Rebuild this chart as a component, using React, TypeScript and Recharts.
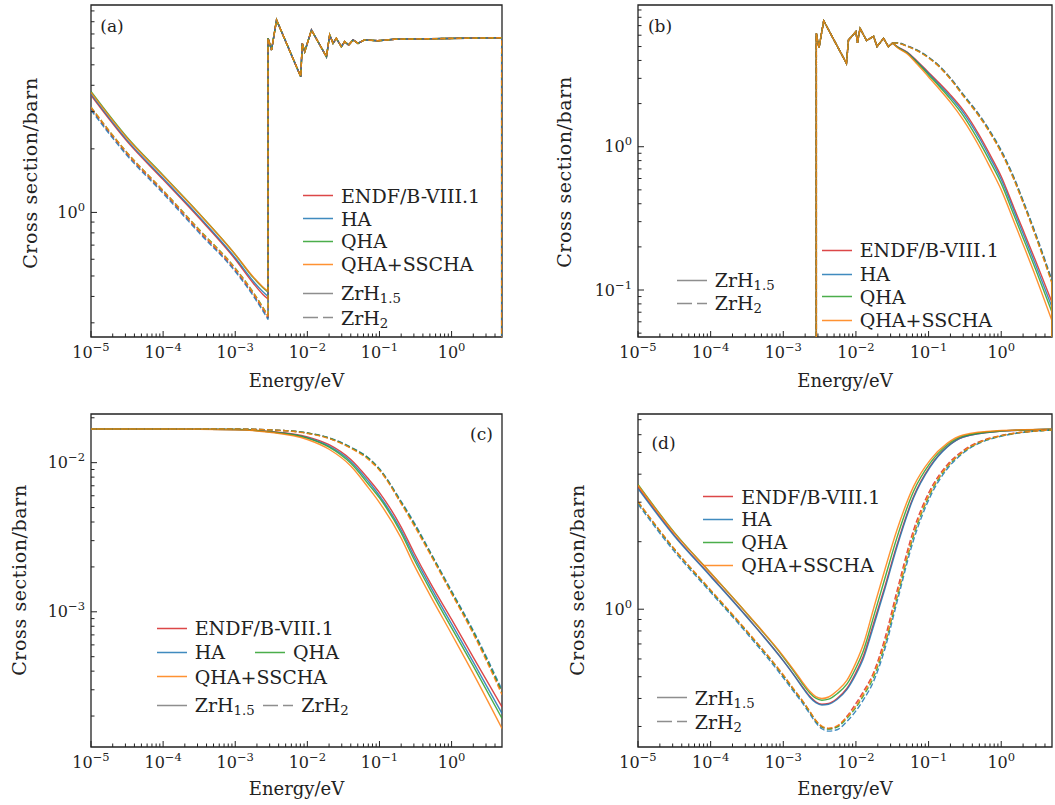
import React from "react";
import { LineChart, Line, XAxis, YAxis, ReferenceArea } from "recharts";

const FONT = '"DejaVu Serif", serif';
const INK = "#222";
const RED = "#d62728";
const BLUE = "#1f77b4";
const GREEN = "#2ca02c";
const ORANGE = "#ff7f0e";
const GRAY = "#7a7a7a";
const LINE_OPACITY = 0.85;

// ---------- panel (a) ----------
// smooth part below the first Bragg edge
const aLowEnergy = [1e-5, 3.16e-5, 1e-4, 3.16e-4, 1e-3, 1.78e-3, 2.4e-3, 2.85e-3];
const aRedLow = [3.58, 2.17, 1.43, 0.94, 0.6, 0.462, 0.41, 0.389];
const aBlueLow = [3.63, 2.2, 1.45, 0.955, 0.61, 0.472, 0.422, 0.4];
const aGreenLow = [3.74, 2.27, 1.5, 0.988, 0.632, 0.491, 0.441, 0.419];
const aOrangeLow = [3.7, 2.25, 1.49, 0.985, 0.633, 0.494, 0.445, 0.424];
const aRedDashLow = [3.1, 1.89, 1.25, 0.813, 0.533, 0.409, 0.349, 0.316];
const aBlueDashLow = [3.05, 1.86, 1.23, 0.8, 0.525, 0.402, 0.343, 0.311];
const aGreenDashLow = [3.15, 1.92, 1.27, 0.83, 0.545, 0.418, 0.357, 0.324];
const aOrangeDashLow = [3.15, 1.92, 1.27, 0.826, 0.542, 0.416, 0.355, 0.322];
// Bragg-edge part (all curves coincide)
const aBraggEnergy = [
  2.85e-3, 3.19e-3, 3.74e-3, 8.1e-3, 8.5e-3, 9.2e-3, 1.14e-2, 1.84e-2, 2.04e-2, 2.27e-2,
  2.52e-2, 2.96e-2, 3.29e-2, 3.74e-2, 4.3e-2, 5.04e-2, 6.2e-2, 9.5e-2, 0.162, 4.95, 4.95,
];
const aBragg = [
  6.68, 5.88, 8.16, 4.39, 6.32, 5.77, 7.31, 5.46, 6.92, 6.32, 6.68, 6.09, 6.44, 6.21, 6.56,
  6.32, 6.56, 6.5, 6.61, 6.72, 0.1,
];

// ---------- panel (b) ----------
const bBraggEnergy = [
  2.85e-3, 2.85e-3, 3.1e-3, 3.6e-3, 7.4e-3, 7.9e-3, 1.0e-2, 1.05e-2, 1.14e-2, 1.4e-2, 1.75e-2,
  1.95e-2, 2.4e-2, 2.8e-2, 3.2e-2,
];
const bBragg = [0.01, 6.18, 4.9, 7.57, 3.82, 5.56, 6.35, 5.3, 6.7, 5.5, 5.9, 5.0, 5.7, 5.0, 5.3];
const bTailEnergy = [0.037, 0.05, 0.07, 0.1, 0.14, 0.2, 0.3, 0.5, 0.7, 1, 1.5, 2, 3, 5];
const bRedTail = [5.0, 4.6, 3.95, 3.3, 2.78, 2.3, 1.8, 1.2, 0.88, 0.62, 0.374, 0.262, 0.158, 0.082];
const bBlueTail = [4.98, 4.57, 3.9, 3.24, 2.71, 2.23, 1.73, 1.15, 0.84, 0.59, 0.355, 0.248, 0.148, 0.076];
const bGreenTail = [4.96, 4.53, 3.85, 3.17, 2.64, 2.15, 1.65, 1.08, 0.79, 0.555, 0.332, 0.231, 0.138, 0.07];
const bOrangeTail = [4.93, 4.48, 3.76, 3.07, 2.53, 2.04, 1.54, 1.0, 0.72, 0.5, 0.3, 0.208, 0.123, 0.061];
const bRedDashTail = [5.3, 5.05, 4.7, 4.2, 3.65, 3.0, 2.3, 1.65, 1.27, 0.93, 0.6, 0.415, 0.24, 0.115];
const bBlueDashTail = [5.32, 5.07, 4.72, 4.22, 3.67, 3.02, 2.32, 1.67, 1.29, 0.945, 0.61, 0.422, 0.245, 0.117];
const bGreenDashTail = [5.29, 5.04, 4.68, 4.18, 3.63, 2.98, 2.28, 1.63, 1.26, 0.92, 0.593, 0.41, 0.237, 0.113];
const bOrangeDashTail = [5.28, 5.03, 4.66, 4.16, 3.61, 2.96, 2.26, 1.62, 1.25, 0.91, 0.587, 0.405, 0.234, 0.111];

// ---------- panel (c) ----------
const cEnergy = [1e-5, 1e-4, 1e-3, 3e-3, 1e-2, 2e-2, 4e-2, 7e-2, 0.1, 0.2, 0.3, 0.5, 1, 2, 5];
const cRed = [0.0168, 0.0168, 0.0167, 0.0162, 0.0149, 0.0132, 0.0105, 0.0078, 0.0063, 0.0037, 0.0025, 0.00158, 0.00089, 0.000495, 0.00023];
const cBlue = [0.0168, 0.0168, 0.0167, 0.0161, 0.0147, 0.0129, 0.0102, 0.0075, 0.006, 0.00352, 0.00237, 0.0015, 0.00083, 0.00046, 0.000208];
const cGreen = [0.0168, 0.0168, 0.0167, 0.0161, 0.0146, 0.0127, 0.0099, 0.0072, 0.0058, 0.00338, 0.00226, 0.00142, 0.00078, 0.000432, 0.000193];
const cOrange = [0.0168, 0.0168, 0.0166, 0.016, 0.0143, 0.0123, 0.0095, 0.0068, 0.0054, 0.00312, 0.00207, 0.0013, 0.00071, 0.000385, 0.000165];
const cRedDash = [0.0168, 0.0168, 0.0168, 0.0166, 0.0158, 0.0146, 0.0126, 0.0107, 0.009, 0.0054, 0.0039, 0.0025, 0.00135, 0.00073, 0.000288];
const cBlueDash = [0.0168, 0.0168, 0.0168, 0.0166, 0.0158, 0.0147, 0.0127, 0.0108, 0.0091, 0.0055, 0.004, 0.00255, 0.00138, 0.00075, 0.0003];
const cGreenDash = [0.0168, 0.0168, 0.0168, 0.0166, 0.0158, 0.0146, 0.0126, 0.0107, 0.009, 0.0054, 0.0039, 0.0025, 0.00135, 0.00073, 0.00029];
const cOrangeDash = [0.0168, 0.0168, 0.0168, 0.0166, 0.0157, 0.0145, 0.0125, 0.0105, 0.0089, 0.0053, 0.0038, 0.00245, 0.00132, 0.00071, 0.000278];

// ---------- panel (d) ----------
const dEnergy = [
  1e-5, 3.16e-5, 1e-4, 3.16e-4, 1e-3, 1.4e-3, 1.8e-3, 2.3e-3, 2.8e-3, 3.4e-3, 4.2e-3, 5.5e-3,
  7.5e-3, 1e-2, 1.27e-2, 1.74e-2, 2.5e-2, 3.66e-2, 6.2e-2, 0.105, 0.18, 0.3, 0.88, 5,
];
const dRed = [3.5, 2.14, 1.41, 0.925, 0.59, 0.51, 0.455, 0.41, 0.386, 0.377, 0.38, 0.4, 0.443, 0.522, 0.62, 0.86, 1.26, 1.93, 3.17, 4.34, 5.3, 5.86, 6.2, 6.34];
const dBlue = [3.45, 2.12, 1.4, 0.92, 0.588, 0.508, 0.452, 0.406, 0.383, 0.374, 0.377, 0.396, 0.438, 0.512, 0.605, 0.835, 1.23, 1.89, 3.13, 4.3, 5.28, 5.85, 6.2, 6.34];
const dGreen = [3.6, 2.2, 1.45, 0.955, 0.612, 0.528, 0.47, 0.424, 0.401, 0.393, 0.397, 0.42, 0.463, 0.548, 0.655, 0.92, 1.37, 2.08, 3.35, 4.48, 5.4, 5.92, 6.22, 6.34];
const dOrange = [3.57, 2.19, 1.45, 0.958, 0.618, 0.535, 0.478, 0.432, 0.408, 0.4, 0.406, 0.433, 0.482, 0.578, 0.7, 1.0, 1.5, 2.25, 3.52, 4.62, 5.49, 5.98, 6.25, 6.34];
const dRedDash = [3.0, 1.85, 1.21, 0.795, 0.505, 0.436, 0.392, 0.35, 0.318, 0.299, 0.293, 0.3, 0.333, 0.38, 0.43, 0.52, 0.74, 1.2, 2.25, 3.4, 4.4, 5.1, 5.9, 6.3];
const dBlueDash = [2.94, 1.81, 1.19, 0.78, 0.495, 0.428, 0.385, 0.343, 0.312, 0.293, 0.286, 0.29, 0.316, 0.352, 0.395, 0.475, 0.665, 1.07, 2.03, 3.17, 4.22, 4.97, 5.85, 6.3];
const dGreenDash = [3.0, 1.85, 1.21, 0.795, 0.506, 0.437, 0.393, 0.35, 0.318, 0.299, 0.292, 0.298, 0.326, 0.365, 0.412, 0.495, 0.695, 1.12, 2.12, 3.27, 4.3, 5.02, 5.87, 6.3];
const dOrangeDash = [3.02, 1.86, 1.22, 0.8, 0.51, 0.44, 0.395, 0.352, 0.32, 0.301, 0.295, 0.302, 0.33, 0.37, 0.42, 0.51, 0.71, 1.15, 2.17, 3.32, 4.33, 5.05, 5.88, 6.3];

const X_DOMAIN: [number, number] = [1e-5, 5];

// log ticks 1..9 x 10^n inside [lo, hi]
function logTicks(lo: number, hi: number) {
  const out: number[] = [];
  for (let e = Math.floor(Math.log10(lo)); e <= Math.ceil(Math.log10(hi)); e++) {
    for (let m = 1; m <= 9; m++) {
      const v = +(m * Math.pow(10, e)).toPrecision(6);
      if (v >= lo * 0.9999 && v <= hi * 0.9999) out.push(v);
    }
  }
  return out;
}
const xTicks = logTicks(1e-5, 5);

type Pt = { E: number; v: number };
type Curve = "linear" | "monotone";
type LineSpec = { data: Pt[]; color: string; dashed: boolean; curve: Curve };

const pts = (E: number[], v: number[]): Pt[] => E.map((e, i) => ({ E: e, v: v[i] }));
const last = (v: number[]) => v[v.length - 1];

const COLORS = [RED, BLUE, GREEN, ORANGE];

// panel (a): smooth part (monotone) + Bragg edges (straight segments)
const aLowSets = [aRedLow, aBlueLow, aGreenLow, aOrangeLow, aRedDashLow, aBlueDashLow, aGreenDashLow, aOrangeDashLow];
const aLines: LineSpec[] = aLowSets.flatMap((low, i) => [
  { data: pts(aLowEnergy, low), color: COLORS[i % 4], dashed: i >= 4, curve: "monotone" as Curve },
  { data: [{ E: last(aLowEnergy), v: last(low) }, ...pts(aBraggEnergy, aBragg)], color: COLORS[i % 4], dashed: i >= 4, curve: "linear" as Curve },
]);

const bTailSets = [bRedTail, bBlueTail, bGreenTail, bOrangeTail, bRedDashTail, bBlueDashTail, bGreenDashTail, bOrangeDashTail];
const bLines: LineSpec[] = bTailSets.flatMap((tail, i) => [
  { data: pts(bBraggEnergy, bBragg), color: COLORS[i % 4], dashed: i >= 4, curve: "linear" as Curve },
  { data: [{ E: last(bBraggEnergy), v: last(bBragg) }, ...pts(bTailEnergy, tail)], color: COLORS[i % 4], dashed: i >= 4, curve: "monotone" as Curve },
  { data: [{ E: 4.97, v: last(tail) }, { E: 4.97, v: 0.01 }], color: COLORS[i % 4], dashed: false, curve: "linear" as Curve },
]);

const cSets = [cRed, cBlue, cGreen, cOrange, cRedDash, cBlueDash, cGreenDash, cOrangeDash];
const cLines: LineSpec[] = cSets.map((v, i) => ({ data: pts(cEnergy, v), color: COLORS[i % 4], dashed: i >= 4, curve: "monotone" }));

const dSets = [dRed, dBlue, dGreen, dOrange, dRedDash, dBlueDash, dGreenDash, dOrangeDash];
const dLines: LineSpec[] = dSets.map((v, i) => ({ data: pts(dEnergy, v), color: COLORS[i % 4], dashed: i >= 4, curve: "monotone" }));

function expInfo(v: number) {
  const lg = Math.log10(v);
  const e = Math.round(lg);
  return { e, major: Math.abs(lg - e) < 1e-6 };
}
const supText = (e: number) => (e < 0 ? "\u2212" + -e : String(e));

function XTick(props: any) {
  const { x, y, payload } = props;
  const { e, major } = expInfo(payload.value);
  return (
    <g>
      <line x1={x} x2={x} y1={y} y2={y - (major ? 6 : 3.5)} stroke={INK} strokeWidth={1} />
      {major && (
        <text x={x} y={y + 21} textAnchor="middle" fontFamily={FONT} fontSize={16} fill={INK}>
          10
          <tspan dy={-7} fontSize={11.5}>{supText(e)}</tspan>
        </text>
      )}
    </g>
  );
}

function YTick(props: any) {
  const { x, y, payload } = props;
  const { e, major } = expInfo(payload.value);
  return (
    <g>
      <line x1={x} x2={x + (major ? 6 : 3.5)} y1={y} y2={y} stroke={INK} strokeWidth={1} />
      {major && (
        <text x={x - 6} y={y + 5.5} textAnchor="end" fontFamily={FONT} fontSize={16} fill={INK}>
          10
          <tspan dy={-7} fontSize={11.5}>{supText(e)}</tspan>
        </text>
      )}
    </g>
  );
}

type PanelProps = {
  left: number;
  top: number;
  width: number;
  height: number;
  yAxisW: number;
  mTop: number;
  mRight: number;
  xAxisH: number;
  lines: LineSpec[];
  yDomain: [number, number];
};

function Panel({ left, top, width, height, yAxisW, mTop, mRight, xAxisH, lines, yDomain }: PanelProps) {
  // solid curves first, dashed on top
  const ordered = [...lines.filter((l) => !l.dashed), ...lines.filter((l) => l.dashed)];
  return (
    <div style={{ position: "absolute", left, top }}>
      <LineChart width={width} height={height} margin={{ top: mTop, right: mRight, left: 0, bottom: 0 }}>
        <XAxis
          dataKey="E"
          type="number"
          scale="log"
          domain={X_DOMAIN}
          allowDataOverflow
          ticks={xTicks}
          interval={0}
          tickSize={0}
          tickMargin={0}
          axisLine={false}
          tickLine={false}
          height={xAxisH}
          tick={(p: any) => <XTick {...p} />}
        />
        <YAxis
          dataKey="v"
          type="number"
          scale="log"
          domain={yDomain}
          allowDataOverflow
          ticks={logTicks(yDomain[0], yDomain[1])}
          interval={0}
          tickSize={0}
          tickMargin={0}
          axisLine={false}
          tickLine={false}
          width={yAxisW}
          tick={(p: any) => <YTick {...p} />}
        />
        <ReferenceArea x1={X_DOMAIN[0]} x2={X_DOMAIN[1]} y1={yDomain[0]} y2={yDomain[1]} fill="none" fillOpacity={0} stroke={INK} strokeWidth={1.3} />
        {ordered.map((l, i) => (
          <Line
            key={i}
            data={l.data}
            dataKey="v"
            type={l.curve}
            stroke={l.color}
            strokeOpacity={LINE_OPACITY}
            strokeWidth={1.4}
            strokeDasharray={l.dashed ? "5.5 2.5" : undefined}
            dot={false}
            activeDot={false}
            isAnimationActive={false}
          />
        ))}
      </LineChart>
    </div>
  );
}

type LegendEntry = { x: number; y: number; color: string; dashed?: boolean; label: React.ReactNode };

const subStyle: React.CSSProperties = { fontSize: "0.7em", verticalAlign: "-0.3em", lineHeight: 0 };
const ZrH15 = (
  <>
    ZrH<sub style={subStyle}>1.5</sub>
  </>
);
const ZrH2 = (
  <>
    ZrH<sub style={subStyle}>2</sub>
  </>
);

function LegendItem({ x, y, color, dashed, label }: LegendEntry) {
  return (
    <div
      style={{
        position: "absolute",
        left: x,
        top: y,
        transform: "translateY(-50%)",
        display: "flex",
        alignItems: "center",
        fontFamily: FONT,
        fontSize: 19,
        lineHeight: 1,
        color: INK,
        whiteSpace: "nowrap",
      }}
    >
      <svg width={30} height={6} style={{ marginRight: 8, display: "block" }}>
        <line x1={0} x2={30} y1={3} y2={3} stroke={color} strokeOpacity={LINE_OPACITY} strokeWidth={1.6} strokeDasharray={dashed ? "15 5" : undefined} />
      </svg>
      <span>{label}</span>
    </div>
  );
}

const methodLabels = ["ENDF/B-VIII.1", "HA", "QHA", "QHA+SSCHA"];

const legendA: LegendEntry[] = [
  ...methodLabels.map((l, i) => ({ x: 303, y: [195.7, 218.5, 241, 264.3][i], color: COLORS[i], label: l })),
  { x: 303, y: 293.3, color: GRAY, label: ZrH15 },
  { x: 303, y: 317.7, color: GRAY, dashed: true, label: ZrH2 },
];
const legendB: LegendEntry[] = [
  ...methodLabels.map((l, i) => ({ x: 821.7, y: [250, 274.3, 296.7, 320][i], color: COLORS[i], label: l })),
  { x: 676.7, y: 280, color: GRAY, label: ZrH15 },
  { x: 676.7, y: 303.3, color: GRAY, dashed: true, label: ZrH2 },
];
const legendC: LegendEntry[] = [
  { x: 156.7, y: 628.3, color: RED, label: "ENDF/B-VIII.1" },
  { x: 156.7, y: 652.3, color: BLUE, label: "HA" },
  { x: 255, y: 652.3, color: GREEN, label: "QHA" },
  { x: 156.7, y: 676.7, color: ORANGE, label: "QHA+SSCHA" },
  { x: 156.7, y: 705, color: GRAY, label: ZrH15 },
  { x: 263.3, y: 705, color: GRAY, dashed: true, label: ZrH2 },
];
const legendD: LegendEntry[] = [
  ...methodLabels.map((l, i) => ({ x: 703.3, y: [496.7, 519, 542.3, 565][i], color: COLORS[i], label: l })),
  { x: 656.7, y: 697.7, color: GRAY, label: ZrH15 },
  { x: 656.7, y: 721.7, color: GRAY, dashed: true, label: ZrH2 },
];

function Title({ x, y, text, rotate, size = 18, spacing = 0 }: { x: number; y: number; text: string; rotate?: boolean; size?: number; spacing?: number }) {
  return (
    <div
      style={{
        position: "absolute",
        left: x,
        top: y,
        transform: `translate(-50%, -50%)${rotate ? " rotate(-90deg)" : ""}`,
        fontFamily: FONT,
        fontSize: size,
        letterSpacing: spacing,
        lineHeight: 1,
        color: INK,
        whiteSpace: "nowrap",
      }}
    >
      {text}
    </div>
  );
}

export default function App() {
  return (
    <div style={{ position: "absolute", left: 0, top: 0, width: 1055, height: 805, background: "#fff", overflow: "hidden" }}>
      <Panel left={0} top={0} width={530} height={400} yAxisW={91} mTop={5} mRight={28} xAxisH={63} lines={aLines} yDomain={[0.257, 9.6]} />
      <Panel left={530} top={0} width={525} height={400} yAxisW={108} mTop={5} mRight={3} xAxisH={63} lines={bLines} yDomain={[0.047, 9.75]} />
      <Panel left={0} top={400} width={530} height={405} yAxisW={91} mTop={14} mRight={28} xAxisH={58} lines={cLines} yDomain={[1.24e-4, 0.0212]} />
      <Panel left={530} top={400} width={525} height={405} yAxisW={108} mTop={14} mRight={3} xAxisH={58} lines={dLines} yDomain={[0.243, 7.42]} />

      <Title x={296.5} y={381} text="Energy/eV" />
      <Title x={845} y={381} text="Energy/eV" />
      <Title x={296.5} y={789} text="Energy/eV" />
      <Title x={845} y={789} text="Energy/eV" />
      <Title x={30} y={173} text="Cross section/barn" rotate size={19} spacing={0.6} />
      <Title x={564} y={172} text="Cross section/barn" rotate size={19} spacing={0.6} />
      <Title x={18.5} y={580} text="Cross section/barn" rotate size={19} spacing={0.6} />
      <Title x={577} y={580} text="Cross section/barn" rotate size={19} spacing={0.6} />

      <Title x={112} y={25.5} text="(a)" size={17} />
      <Title x={660} y={25.5} text="(b)" size={17} />
      <Title x={481.5} y={434} text="(c)" size={17} />
      <Title x={663.5} y={443} text="(d)" size={17} />

      {[...legendA, ...legendB, ...legendC, ...legendD].map((e, i) => (
        <LegendItem key={i} {...e} />
      ))}
    </div>
  );
}
